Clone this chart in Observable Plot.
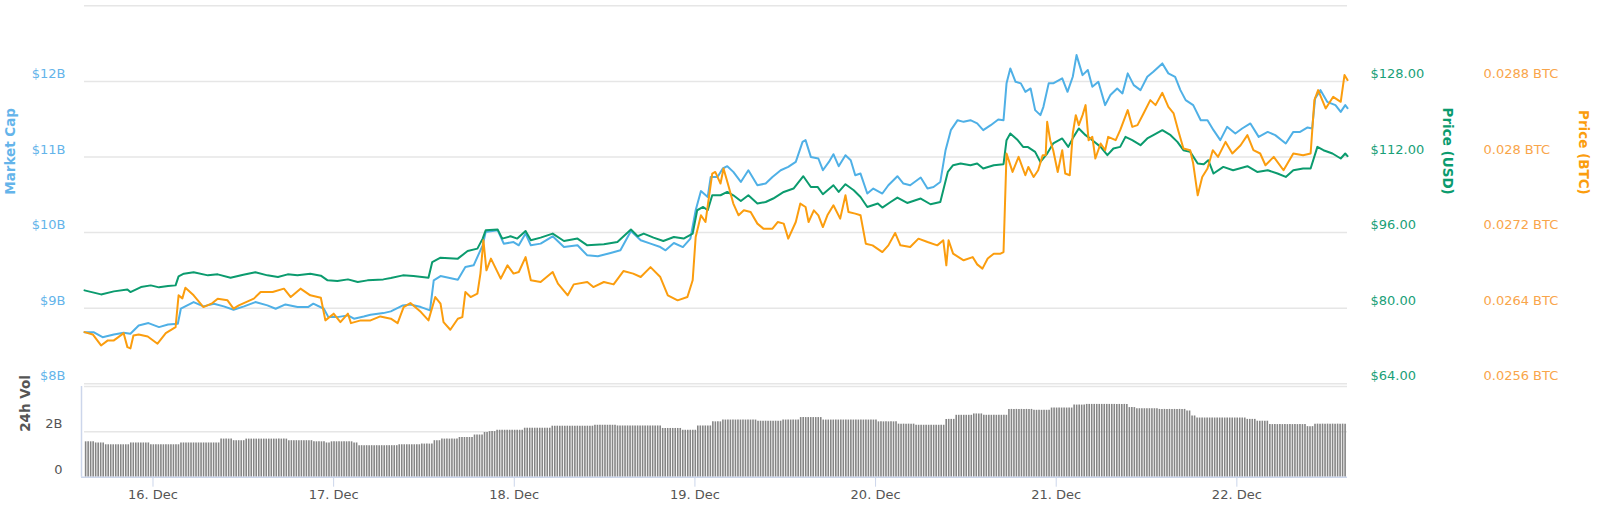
<!DOCTYPE html>
<html>
<head>
<meta charset="utf-8">
<script src="https://cdn.jsdelivr.net/npm/d3@7"></script>
<script src="https://cdn.jsdelivr.net/npm/@observablehq/plot@0.6"></script>
<style>
html, body { margin: 0; padding: 0; background: #fff; }
#chart { position: relative; width: 1600px; height: 515px; overflow: hidden; }
#chart svg { position: absolute; left: 0; }
</style>
</head>
<body>
<div id="chart"></div>
<script>
// ---- Data (hours after 16 Dec 2018 00:00 UTC) ----
const capHours = [-9.1,-7.9,-6.7,-5.2,-3.9,-3.0,-1.9,-0.6,0.8,2.0,
  3.3,3.7,5.4,6.7,8.1,9.4,10.7,12.1,13.6,15.2,
  16.3,17.6,19.2,20.6,21.3,22.7,23.3,24.5,25.9,26.7,
  28.0,28.9,30.6,31.6,33.2,34.2,35.6,36.8,37.3,38.2,
  40.5,41.5,42.6,43.8,44.2,45.8,46.6,47.9,48.6,49.5,
  50.2,51.5,53.1,54.6,56.4,57.7,59.1,60.8,62.1,63.5,
  64.8,66.1,67.4,68.1,69.2,70.4,71.4,72.1,72.8,73.7,
  74.1,75.0,75.7,76.3,77.1,78.1,79.1,80.3,81.4,82.3,
  83.4,84.4,85.4,86.3,86.7,87.4,88.4,89.0,89.8,90.4,
  91.1,92.0,92.7,93.3,94.0,94.9,95.7,96.9,97.7,98.9,
  99.7,100.6,102.0,102.9,103.7,104.6,105.3,106.0,106.9,107.7,
  108.6,109.5,110.3,111.3,112.3,113.0,113.4,113.9,114.6,115.3,
  115.9,116.6,117.2,117.9,118.3,119.0,119.6,120.8,121.5,122.2,
  122.7,123.5,124.2,124.8,125.6,126.5,127.2,128.1,128.8,129.5,
  130.3,131.2,132.1,132.9,134.1,134.9,135.8,136.5,137.2,138.2,
  139.2,140.1,140.9,141.8,142.7,143.8,144.7,145.8,146.9,148.1,
  149.1,150.5,151.5,152.4,153.4,154.0,154.4,155.1,156.0,157.1,
  157.8,158.4,158.7];
const capValues = [8.683,8.683,8.617,8.653,8.675,8.662,8.772,8.803,8.750,8.785,
  8.795,8.993,9.081,9.024,9.060,9.024,8.980,9.024,9.081,9.037,
  8.993,9.050,9.015,9.015,9.060,8.993,8.882,8.882,8.905,8.861,
  8.891,8.914,8.935,8.958,9.037,9.050,9.015,8.971,9.368,9.425,
  9.377,9.544,9.567,9.832,10.008,10.030,9.854,9.875,9.832,9.987,
  9.832,9.854,9.951,9.809,9.832,9.699,9.686,9.730,9.766,10.021,
  9.898,9.854,9.809,9.766,9.862,9.809,9.921,10.295,10.549,10.472,
  10.736,10.736,10.848,10.878,10.803,10.670,10.825,10.626,10.649,10.736,
  10.825,10.869,10.935,11.200,11.223,11.001,10.980,10.825,10.935,11.037,
  10.878,11.024,10.958,10.759,10.781,10.517,10.583,10.517,10.626,10.746,
  10.649,10.626,10.728,10.583,10.604,10.670,11.090,11.355,11.487,11.465,
  11.487,11.444,11.355,11.421,11.497,11.487,11.974,12.172,11.995,11.974,
  11.862,11.907,11.620,11.554,11.664,11.974,11.974,12.040,11.862,12.061,
  12.348,12.083,12.150,11.928,11.995,11.686,11.819,11.907,11.841,12.106,
  11.951,11.885,12.061,12.127,12.238,12.106,12.061,11.885,11.752,11.686,
  11.487,11.487,11.355,11.223,11.399,11.311,11.377,11.444,11.266,11.332,
  11.289,11.179,11.332,11.332,11.391,11.377,11.775,11.885,11.730,11.686,
  11.597,11.686,11.646];

const usdHours = [-9.1,-6.9,-5.2,-3.4,-3.0,-1.6,-0.3,0.8,2.0,3.0,
  3.4,4.1,5.4,7.3,8.6,10.3,12.0,13.6,15.2,16.6,
  17.9,19.2,20.9,22.3,23.2,24.5,25.9,27.2,28.5,30.6,
  31.6,33.2,34.6,36.6,37.1,38.2,40.5,41.8,43.1,43.8,
  44.2,45.8,46.4,47.5,48.4,49.5,50.2,51.5,53.1,54.6,
  56.4,57.7,59.9,61.7,63.5,64.4,65.2,66.5,67.8,69.2,
  70.5,71.7,72.3,73.1,73.7,74.3,75.4,76.3,77.1,78.1,
  79.1,80.3,81.4,82.4,83.8,85.1,86.4,87.4,88.3,89.0,
  90.4,91.1,92.0,93.1,94.0,94.9,96.3,96.9,98.0,98.9,
  100.2,102.0,103.3,104.6,105.6,106.3,107.3,108.6,109.5,110.3,
  111.7,113.0,113.4,113.9,114.8,115.6,116.2,117.2,117.9,118.8,
  119.6,120.8,121.6,122.3,123.0,123.9,124.8,125.9,126.8,127.6,
  128.5,129.2,130.1,131.2,132.1,132.9,134.1,135.2,136.1,136.9,
  137.8,138.8,139.6,140.2,140.9,142.2,143.5,145.4,146.7,148.1,
  149.4,150.5,151.5,152.8,153.8,154.7,155.5,156.7,157.8,158.4,
  158.7];
const usdValues = [83.77,82.92,83.56,83.98,83.41,84.47,84.83,84.41,84.68,84.83,
  86.74,87.31,87.59,86.95,87.16,86.46,87.10,87.59,86.95,86.59,
  87.16,86.95,87.31,86.89,85.89,85.74,86.10,85.53,85.89,86.10,
  86.38,86.95,86.80,86.46,89.77,90.70,90.49,92.10,92.61,94.73,
  96.49,96.64,94.73,95.22,94.73,96.34,94.37,94.94,95.79,94.22,
  94.73,93.31,93.52,94.01,96.64,95.22,95.79,94.94,94.22,95.07,
  94.73,95.79,100.73,101.43,100.73,103.90,103.90,104.60,103.90,102.70,
  103.90,102.15,102.48,103.21,104.60,105.32,107.93,105.66,105.66,104.12,
  106.02,104.60,106.24,104.96,103.54,101.43,102.15,101.30,102.48,103.42,
  102.27,103.21,102.00,102.48,108.84,110.26,110.62,110.26,110.62,109.56,
  110.26,110.47,115.56,116.98,115.71,114.14,114.14,113.08,110.96,112.74,
  114.86,115.92,114.14,116.26,118.04,116.62,115.56,114.14,112.38,113.80,
  114.14,116.26,115.56,114.50,115.92,116.62,117.68,116.62,115.20,113.44,
  113.08,110.62,110.47,111.32,108.50,109.90,109.20,110.05,108.84,109.20,
  108.50,107.78,109.20,109.56,109.56,114.14,113.44,112.74,111.68,112.74,
  112.17];

const btcHours = [-9.1,-8.0,-6.9,-6.0,-5.2,-4.6,-3.9,-3.4,-3.0,-2.6,
  -1.9,-0.7,0.6,1.7,3.0,3.4,3.9,4.3,5.4,6.7,
  7.9,8.6,9.9,10.7,11.4,13.4,14.3,15.9,17.4,18.3,
  19.6,20.9,22.3,22.9,24.0,24.9,25.9,26.3,27.6,28.9,
  30.2,31.6,32.5,33.3,34.2,35.6,36.6,37.5,38.2,38.6,
  39.5,40.5,41.1,41.5,42.2,43.1,43.5,43.9,44.3,44.9,
  46.2,47.1,47.9,48.6,49.5,50.2,51.5,53.1,53.8,55.1,
  55.9,57.7,58.5,59.9,61.2,62.5,63.8,64.8,66.1,67.4,
  68.4,69.7,71.0,71.7,72.1,72.8,73.4,74.3,74.7,75.4,
  75.8,76.5,77.1,77.8,78.5,79.4,80.3,81.1,82.3,83.0,
  83.8,84.4,85.4,86.0,86.7,87.1,87.8,88.4,89.0,89.6,
  90.4,91.3,92.0,92.4,93.3,94.0,94.7,95.6,96.9,97.7,
  98.6,99.3,100.6,101.7,102.9,104.2,105.0,105.4,105.7,106.3,
  107.7,108.9,109.5,110.2,110.9,111.7,112.6,113.0,113.4,114.2,
  115.0,115.9,116.3,117.0,117.6,118.2,118.6,118.8,119.2,119.6,
  120.2,120.8,121.2,121.8,122.2,122.6,123.0,123.5,123.9,124.3,
  124.8,125.2,125.9,126.5,126.9,127.9,128.5,129.5,130.1,130.8,
  131.6,132.5,133.2,134.1,134.9,135.6,136.2,136.9,137.8,138.2,
  138.8,139.4,140.1,140.8,141.5,142.5,143.4,144.5,145.4,146.2,
  147.1,147.8,148.9,150.2,151.5,152.8,153.8,154.3,154.8,155.8,
  156.8,157.8,158.3,158.7];
const btcValues = [0.026147,0.026122,0.026006,0.026059,0.026059,0.026094,0.026136,0.025988,0.025974,0.026112,
  0.026122,0.026101,0.026024,0.026136,0.026200,0.026536,0.026504,0.026617,0.026536,0.026412,
  0.026454,0.026501,0.026483,0.026395,0.026430,0.026501,0.026571,0.026571,0.026607,0.026518,
  0.026607,0.026536,0.026511,0.026271,0.026342,0.026253,0.026342,0.026242,0.026271,0.026271,
  0.026313,0.026289,0.026242,0.026412,0.026454,0.026359,0.026271,0.026518,0.026448,0.026253,
  0.026172,0.026289,0.026306,0.026571,0.026518,0.026554,0.026766,0.027118,0.026801,0.026925,
  0.026713,0.026854,0.026766,0.026783,0.026941,0.026695,0.026677,0.026783,0.026660,0.026536,
  0.026652,0.026677,0.026624,0.026677,0.026652,0.026793,0.026766,0.026730,0.026835,0.026730,
  0.026536,0.026483,0.026518,0.026695,0.027153,0.027383,0.027312,0.027825,0.027842,0.027719,
  0.027878,0.027683,0.027507,0.027383,0.027436,0.027418,0.027295,0.027242,0.027242,0.027312,
  0.027295,0.027136,0.027312,0.027507,0.027471,0.027312,0.027436,0.027383,0.027259,0.027383,
  0.027489,0.027348,0.027595,0.027418,0.027401,0.027383,0.027083,0.027065,0.026994,0.027065,
  0.027196,0.027065,0.027047,0.027136,0.027100,0.027065,0.027118,0.026854,0.027118,0.026977,
  0.026907,0.026941,0.026864,0.026819,0.026925,0.026977,0.026977,0.026994,0.028037,0.027842,
  0.028001,0.027807,0.027895,0.027789,0.027860,0.028019,0.028019,0.028372,0.028178,0.028072,
  0.027842,0.028072,0.027825,0.027807,0.028249,0.028443,0.028337,0.028443,0.028549,0.028178,
  0.028213,0.027984,0.028143,0.028072,0.028213,0.028178,0.028284,0.028496,0.028319,0.028337,
  0.028461,0.028602,0.028549,0.028679,0.028531,0.028461,0.028284,0.028090,0.028072,0.027931,
  0.027595,0.027789,0.027878,0.028072,0.028001,0.028160,0.028037,0.028125,0.028231,0.028072,
  0.028037,0.027913,0.028001,0.027860,0.028037,0.028019,0.028037,0.028602,0.028708,0.028514,
  0.028637,0.028584,0.028867,0.028814];

// 24h volume (billions USD), as steps read from the columns
const volHours = [-9.1,-7.7,-6.4,-3.1,-0.4,3.7,8.9,10.5,12.3,17.8,
  21.3,22.9,23.5,26.4,27.3,32.6,35.7,37.3,38.1,40.6,
  42.5,43.8,44.6,45.6,49.2,53.0,58.4,61.5,67.4,70.1,
  72.2,74.2,75.7,80.1,83.5,85.8,88.9,96.2,98.8,101.2,
  105.3,106.6,108.8,110.3,113.4,116.8,119.1,122.3,123.9,129.6,
  130.4,133.7,137.2,137.8,138.6,145.1,146.7,148.3,153.2,154.3];
const volValues = [1.56,1.51,1.43,1.51,1.43,1.51,1.68,1.61,1.68,1.61,
  1.56,1.51,1.56,1.51,1.39,1.43,1.46,1.61,1.68,1.75,
  1.86,1.97,2.01,2.07,2.16,2.25,2.29,2.26,2.15,2.07,
  2.26,2.44,2.52,2.47,2.52,2.63,2.52,2.44,2.34,2.29,
  2.55,2.73,2.79,2.73,2.99,2.95,3.05,3.18,3.21,3.07,
  3.02,2.99,2.92,2.70,2.61,2.55,2.47,2.32,2.23,2.34];

// Axis ticks
const capTicks = [8, 9, 10, 11, 12];
const capGrid = [8, 9, 10, 11, 12, 13];
const usdTicks = [64, 80, 96, 112, 128];
const btcTicks = [0.0256, 0.0264, 0.0272, 0.028, 0.0288];
const volTicks = [0, 2];
const volGrid = [2, 4];
const dayNumbers = [16, 17, 18, 19, 20, 21, 22];

// ---- Build ----
const T0 = Date.UTC(2018, 11, 16);
const toDate = h => new Date(T0 + h * 3600e3);
const series = (hs, vs) => hs.map((h, i) => ({t: toDate(h), v: vs[i]})).filter(d => d.v != null);
const capData = series(capHours, capValues);
const usdData = series(usdHours, usdValues);
const btcData = series(btcHours, btcValues);
const xDomain = [toDate(capHours[0]), toDate(capHours[capHours.length - 1])];
const dayTicks = dayNumbers.map(d => new Date(Date.UTC(2018, 11, d)));

// volume columns every 20 minutes, height from the step read at that time
const barHours = d3.range(capHours[0] + 0.15, capHours[capHours.length - 1], 1 / 3);
const volBars = barHours.map(h => {
  const i = Math.max(0, d3.bisectRight(volHours, h) - 1);
  return {t: toDate(h), v: volValues[i]};
});

const C = {
  capLine: "#4fb0e6", capText: "#64b4ea",
  usdLine: "#0b9b6e", usdText: "#199f78",
  btcLine: "#fb9d0e", btcText: "#f9a54a",
  grid: "#e6e6e6", axis: "#ccd6eb", text: "#555"
};
const FONT = "'DejaVu Sans', sans-serif";
const W = 1600, ML = 84, MR = 253;
const base = {
  width: W, marginLeft: ML, marginRight: MR,
  style: {fontFamily: FONT, fontSize: "13px", background: "transparent", overflow: "visible"}
};
const mainLayout = {height: 386, marginTop: 5.3, marginBottom: 2.7,
  x: {type: "utc", domain: xDomain, axis: null}};

const capPlot = Plot.plot({
  ...base, ...mainLayout,
  y: {domain: [8, 13]},
  marks: [
    Plot.ruleY(capGrid, {stroke: C.grid, strokeWidth: 1.5}),
    Plot.axisY({anchor: "left", ticks: capTicks, tickFormat: d => `$${d}B`, tickSize: 0, tickPadding: 19, dy: -7.5, fill: C.capText, label: null}),
    Plot.text(["Market Cap"], {frameAnchor: "left", dx: -74, rotate: -90, fontWeight: "bold", fontSize: 13.5, fill: C.capText}),
    Plot.line(capData, {x: "t", y: "v", stroke: C.capLine, strokeWidth: 2})
  ]
});

const usdPlot = Plot.plot({
  ...base, ...mainLayout,
  y: {domain: [64, 144]},
  marks: [
    Plot.axisY({anchor: "right", ticks: usdTicks, tickFormat: d => `$${d.toFixed(2)}`, tickSize: 0, tickPadding: 23, dy: -7.5, fill: C.usdText, label: null}),
    Plot.text(["Price (USD)"], {frameAnchor: "right", dx: 100, rotate: 90, fontWeight: "bold", fontSize: 13.5, fill: C.usdLine}),
    Plot.line(usdData, {x: "t", y: "v", stroke: C.usdLine, strokeWidth: 2})
  ]
});

const btcPlot = Plot.plot({
  ...base, ...mainLayout,
  y: {domain: [0.0256, 0.0296]},
  marks: [
    Plot.axisY({anchor: "right", ticks: btcTicks, tickFormat: d => `${d} BTC`, tickSize: 0, tickPadding: 136, dy: -7.5, fill: C.btcText, label: null}),
    Plot.text(["Price (BTC)"], {frameAnchor: "right", dx: 236, rotate: 90, fontWeight: "bold", fontSize: 13.5, fill: C.btcLine}),
    Plot.line(btcData, {x: "t", y: "v", stroke: C.btcLine, strokeWidth: 2})
  ]
});

const volPlot = Plot.plot({
  ...base, height: 130, marginTop: 1, marginBottom: 38.3,
  x: {type: "utc", domain: xDomain},
  y: {domain: [0, 4]},
  marks: [
    Plot.ruleY(volGrid, {stroke: C.grid, strokeWidth: 1.5}),
    Plot.ruleX(volBars, {x: "t", y1: 0, y2: "v", stroke: "#858585", strokeWidth: 1.6}),
    Plot.ruleY([0], {stroke: C.axis, strokeWidth: 1.5, insetLeft: -3}),
    Plot.ruleX([xDomain[0]], {dx: -3, stroke: C.axis, strokeWidth: 1.5}),
    Plot.axisX({ticks: dayTicks, tickFormat: d => `${d.getUTCDate()}. Dec`, tickSize: 10, tickPadding: 3, stroke: C.axis, fill: C.text, label: null}),
    Plot.axisY({anchor: "left", ticks: volTicks, tickFormat: d => d === 0 ? "0" : `${d}B`, tickSize: 0, tickPadding: 22, dy: -7.7, fill: C.text, label: null}),
    Plot.text(["24h Vol"], {frameAnchor: "left", dx: -59, rotate: -90, fontWeight: "bold", fontSize: 13.5, fill: C.text})
  ]
});

const chart = document.getElementById("chart");
[[capPlot, 0], [usdPlot, 0], [btcPlot, 0], [volPlot, 385]].forEach(([svg, top]) => {
  svg.style.top = top + "px";
  chart.appendChild(svg);
});
</script>
</body>
</html>
